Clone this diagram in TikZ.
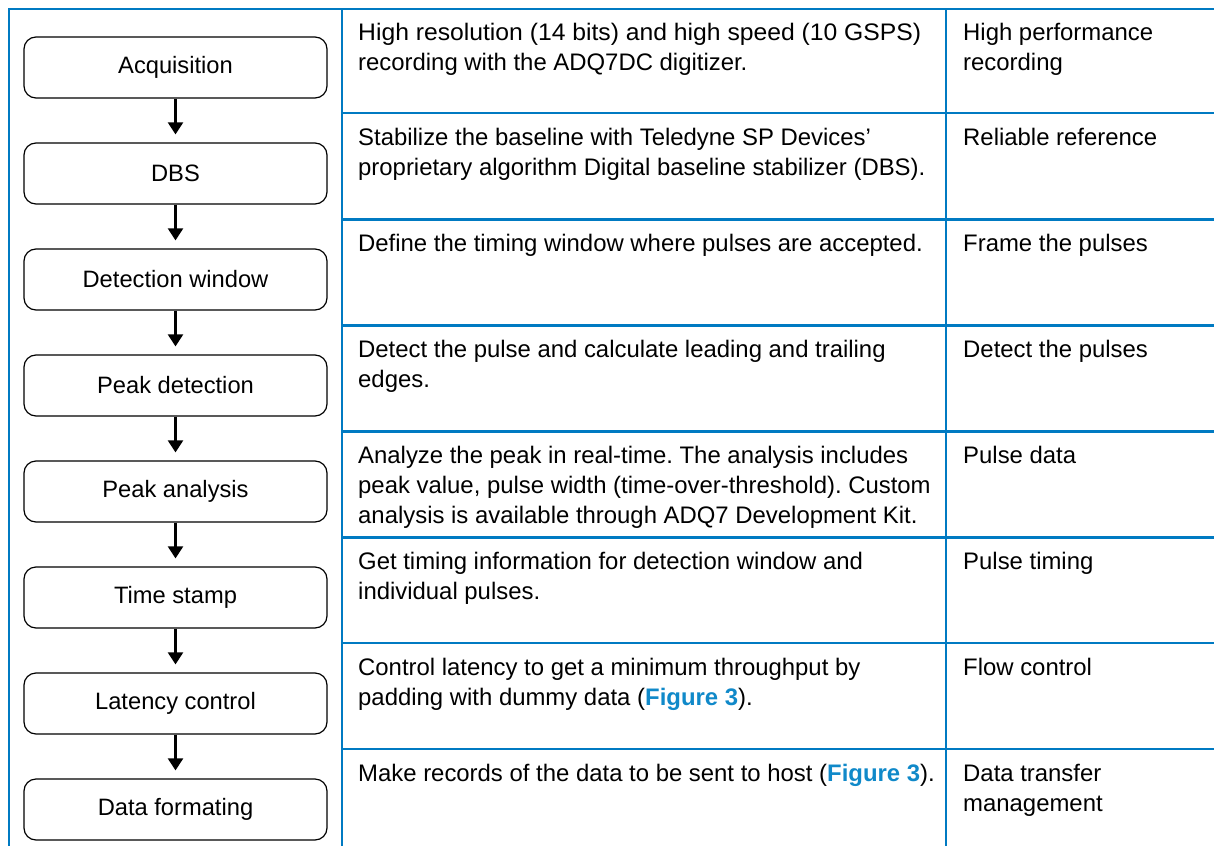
\documentclass[tikz,border=0pt]{standalone}
\usepackage{fontspec}
\usepackage{graphicx}
\setmainfont{Liberation Sans}
\usetikzlibrary{arrows.meta}
\frenchspacing
\definecolor{gridblue}{RGB}{0,122,194}
\definecolor{linkblue}{RGB}{16,137,201}
\newcommand{\figref}{\textcolor{linkblue}{\textbf{Figure 3}}}
\tikzset{
  grid/.style={draw=gridblue, line width=2.4pt},
  stepbox/.style={draw=black, line width=1.2pt, rounded corners=12pt, minimum width=303pt, minimum height=61pt, inner sep=0pt, font=\fontsize{23.7}{30}\selectfont},
  flow/.style={line width=2.2pt, -{Triangle[width=15pt,length=12pt]}, shorten >=8pt},
  celltext/.style={anchor=north west, inner sep=0pt, align=left, font=\fontsize{23.9}{30}\selectfont},
}
\begin{document}
\begin{tikzpicture}[x=1pt,y=-1pt]
\useasboundingbox (0,0) rectangle (1214,845);
\clip (0,0) rectangle (1214,845);
% table grid
\draw[grid] (9,860) -- (9,9) -- (1230,9);
\draw[grid] (342,9) -- (342,860);
\draw[grid] (946,9) -- (946,860);
\foreach \y in {113,219.5,325.5,431.5,537.5,643,749}
  \draw[grid] (342,\y) -- (1230,\y);
% flow boxes
\node[stepbox] (b1) at (175.5,67.5) {Acquisition};
\node[stepbox] (b2) at (175.5,173.5) {DBS};
\node[stepbox] (b3) at (175.5,279.5) {Detection window};
\node[stepbox] (b4) at (175.5,385.5) {Peak detection};
\node[stepbox] (b5) at (175.5,491.5) {Peak analysis};
\node[stepbox] (b6) at (175.5,597.5) {Time stamp};
\node[stepbox] (b7) at (175.5,703.5) {Latency control};
\node[stepbox] (b8) at (175.5,809.5) {Data formating};
\foreach \a/\b in {b1/b2,b2/b3,b3/b4,b4/b5,b5/b6,b6/b7,b7/b8}
  \draw[flow] (\a.south) -- (\b.north);
% descriptions
\node[celltext] (d1) at (358,20) {\rule{0pt}{20pt}\resizebox{563pt}{\height}{High resolution (14 bits) and high speed (10 GSPS)}\\recording with the ADQ7DC digitizer.};
\node[celltext] (d2) at (358,125.5) {\rule{0pt}{20pt}Stabilize the baseline with Teledyne SP Devices’\\proprietary algorithm Digital baseline stabilizer (DBS).};
\node[celltext] (d3) at (358,231.5) {\rule{0pt}{20pt}Define the timing window where pulses are accepted.};
\node[celltext] (d4) at (358,337.5) {\rule{0pt}{20pt}Detect the pulse and calculate leading and trailing\\edges.};
\node[celltext] (d5) at (358,443.5) {\rule{0pt}{20pt}Analyze the peak in real-time. The analysis includes\\peak value, pulse width (time-over-threshold). Custom\\analysis is available through ADQ7 Development Kit.};
\node[celltext] (d6) at (358,549.5) {\rule{0pt}{20pt}Get timing information for detection window and\\individual pulses.};
\node[celltext] (d7) at (358,655.5) {\rule{0pt}{20pt}Control latency to get a minimum throughput by\\padding with dummy data (\figref).};
\node[celltext] (d8) at (358,761) {\rule{0pt}{20pt}Make records of the data to be sent to host (\figref).};
% results
\node[celltext] (r1) at (963,20) {\rule{0pt}{20pt}High performance\\recording};
\node[celltext] (r2) at (963,125.5) {\rule{0pt}{20pt}Reliable reference};
\node[celltext] (r3) at (963,231.5) {\rule{0pt}{20pt}Frame the pulses};
\node[celltext] (r4) at (963,337.5) {\rule{0pt}{20pt}Detect the pulses};
\node[celltext] (r5) at (963,443.5) {\rule{0pt}{20pt}Pulse data};
\node[celltext] (r6) at (963,549.5) {\rule{0pt}{20pt}Pulse timing};
\node[celltext] (r7) at (963,655.5) {\rule{0pt}{20pt}Flow control};
\node[celltext] (r8) at (963,761) {\rule{0pt}{20pt}Data transfer\\management};
\end{tikzpicture}
\end{document}
